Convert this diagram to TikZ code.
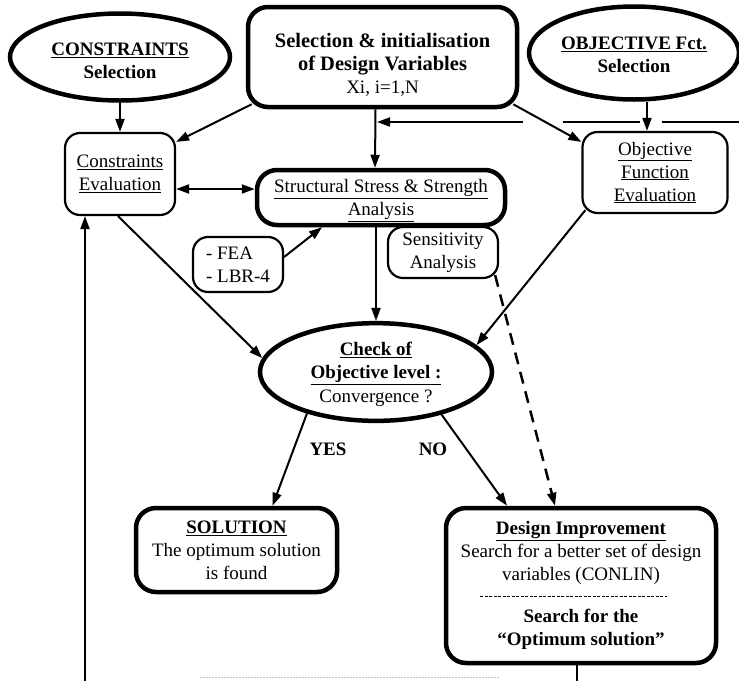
\documentclass[tikz,border=0pt]{standalone}
\usepackage{fontspec}
\setmainfont{Liberation Serif}
\usetikzlibrary{arrows.meta,shapes.geometric}

\begin{document}
\begin{tikzpicture}[x=1pt, y=-1pt, font=\fontsize{19}{23}\selectfont,
    bigbox/.style={draw, line width=4.5pt, rounded corners=20pt, align=center, inner sep=0pt},
    smallbox/.style={draw, line width=2.2pt, rounded corners=15pt, align=center, inner sep=0pt},
    oval/.style={draw, ellipse, line width=4.5pt, align=center, inner sep=0pt},
    link/.style={line width=2pt, -{Triangle[length=13pt,width=9pt]}}]

        \useasboundingbox (0,0) rectangle (739,681);

        % Top row: selections
        \node[oval, minimum width=220pt, minimum height=87pt] (cons) at (120,57)
            {\rule{0pt}{20pt}\underline{\textbf{CONSTRAINTS}}\\\textbf{Selection}};
        \node[bigbox, minimum width=269pt, minimum height=100pt] (sel) at (382.5,57)
            {\rule{0pt}{30pt}\textbf{\fontsize{20.5}{23}\selectfont Selection \& initialisation}\\
             \textbf{\fontsize{20.5}{23}\selectfont of Design Variables}\\Xi, i=1,N};
        \node[oval, minimum width=210pt, minimum height=93pt, inner xsep=-6pt] (obj) at (634,53)
            {\rule{0pt}{17pt}\underline{\textbf{OBJECTIVE Fct.}}\\\textbf{Selection}};

        % Evaluations and analysis
        \node[smallbox, minimum width=110pt, minimum height=82pt] (ceval) at (120,174)
            {\underline{Constraints}\\\underline{Evaluation}};
        \node[smallbox, minimum width=145pt, minimum height=81pt] (oeval) at (655,172.5)
            {\underline{Objective}\\\underline{Function}\\\underline{Evaluation}};
        \node[bigbox, minimum width=248pt, minimum height=55pt] (stress) at (381,197.5)
            {\rule{0pt}{20pt}\underline{Structural Stress \& Strength}\\\underline{Analysis}};
        \node[smallbox, minimum width=90pt, minimum height=55pt, align=left] (fea) at (238,264.5)
            {- FEA\\- LBR-4};
        \node[smallbox, minimum width=110pt, minimum height=51pt] (sens) at (443,252.5)
            {Sensitivity\\Analysis};

        % Convergence check
        \node[oval, minimum width=232pt, minimum height=97pt] (check) at (376,372)
            {\rule{0pt}{18pt}\underline{\textbf{Check of}}\\[0.5pt]\underline{\textbf{Objective level :}}\\[0.5pt]Convergence ?};
        \node[font=\fontsize{19}{23}\selectfont\bfseries] (yes) at (328,449) {YES};
        \node[font=\fontsize{19}{23}\selectfont\bfseries] (no) at (433,449) {NO};

        % Outcomes
        \node[bigbox, minimum width=201pt, minimum height=84pt] (sol) at (236.5,550)
            {\underline{\textbf{SOLUTION}}\\The optimum solution\\is found};
        \node[bigbox, minimum width=270pt, minimum height=155pt] (des) at (581,585.5)
            {\underline{\textbf{Design Improvement}}\\Search for a better set of design\\variables (CONLIN)\\[19pt]
             \textbf{Search for the}\\\textbf{“Optimum solution”}};
        \draw[line width=1pt, dash pattern=on 3pt off 1.5pt] (480,596) -- (667,596);

        % Loop coordinates
        \coordinate (fbin) at (377,122);
        \coordinate (fbout) at (739,122);
        \coordinate (gapA) at (523,122);
        \coordinate (gapB) at (563,122);
        \coordinate (gapC) at (640,122);
        \coordinate (gapD) at (662,122);
        \coordinate (loopL) at (85,681);
        \coordinate (loopR) at (577,681);

        % Connectors
        \draw[link] (cons.south) -- (ceval.north);
        \draw[link] ([xshift=13pt]obj.south) -- ([xshift=-8pt]oeval.north);
        \draw[link] ([shift={(6pt,5pt)}]sel.south west) -- ([yshift=-10pt]ceval.north east);
        \draw[link] ([shift={(-6pt,5pt)}]sel.south east) -- ([yshift=-11pt]oeval.north west);
        \draw[link] ([xshift=-7pt]sel.south) -- ([xshift=-6pt]stress.north);
        \draw[line width=2pt] (fbout) -- (gapD);
        \draw[line width=2pt] (gapC) -- (gapB);
        \draw[link] (gapA) -- (fbin);
        \draw[link, {Triangle[length=13pt,width=9pt]}-{Triangle[length=13pt,width=9pt]}]
            ([yshift=-15pt]ceval.east) -- ([yshift=8.5pt]stress.west);
        \draw[link] ([yshift=7.5pt]fea.east) -- ([xshift=-59pt]stress.south);
        \draw[link] ([xshift=-2pt]ceval.south) -- (check.173);
        \draw[link] (stress.south -| check.north) -- (check.north);
        \draw[link] ([shift={(4pt,4pt)}]oeval.south west) -- (check.15);
        \draw[link] (check.211) -- ([xshift=36pt]sol.north);
        \draw[link] (check.327) -- ([xshift=-74pt]des.north);
        \draw[link, line width=2.5pt, dash pattern=on 12pt off 8pt]
            ([shift={(-4pt,4pt)}]sens.south east) -- ([xshift=-26pt]des.north);

        % Feedback loop
        \draw[line width=2pt] (des.south -| loopR) -- (loopR);
        \draw[link] (loopL) -- (ceval.south -| loopL);
        \draw[gray!50, line width=1pt, dash pattern=on 2pt off 1pt] (200,677) -- (500,677);

      \end{tikzpicture}
\end{document}
